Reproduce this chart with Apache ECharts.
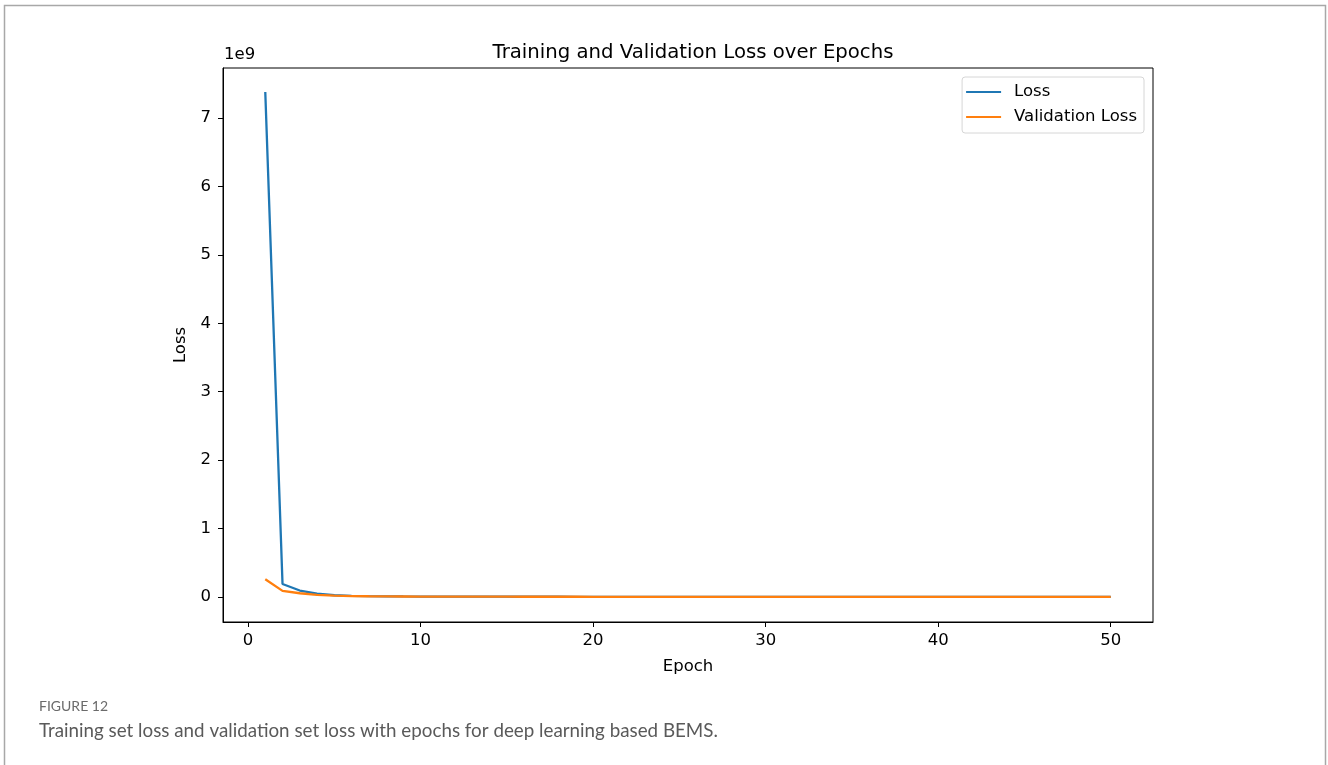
<!DOCTYPE html>
<html>
<head>
<meta charset="utf-8">
<script src="https://cdn.jsdelivr.net/npm/echarts@6/dist/echarts.min.js"></script>
<style>
  html, body { margin: 0; padding: 0; background: #fff; }
  #chart { width: 1328px; height: 765px; }
</style>
</head>
<body>
<div id="chart"></div>
<script>
// Training history of the BEMS deep learning model
const epochs = [1,2,3,4,5,6,7,8,9,10,11,12,13,14,15,16,17,18,19,20,21,22,23,24,25,
                26,27,28,29,30,31,32,33,34,35,36,37,38,39,40,41,42,43,44,45,46,47,48,49,50];
const loss = [7.38e9, 0.19e9, 0.095e9, 0.05e9, 0.026e9, 0.017e9, 0.012e9, 0.0095e9, 0.008e9, 0.007e9,
              0.0062e9, 0.0056e9, 0.0051e9, 0.0047e9, 0.0044e9, 0.0041e9, 0.0039e9, 0.0037e9, 0.0035e9, 0.0033e9,
              0.0032e9, 0.0031e9, 0.0030e9, 0.0029e9, 0.0028e9, 0.0027e9, 0.0026e9, 0.0025e9, 0.0024e9, 0.0024e9,
              0.0023e9, 0.0022e9, 0.0022e9, 0.0021e9, 0.0021e9, 0.0020e9, 0.0020e9, 0.0019e9, 0.0019e9, 0.0018e9,
              0.0018e9, 0.0018e9, 0.0017e9, 0.0017e9, 0.0016e9, 0.0016e9, 0.0016e9, 0.0015e9, 0.0015e9, 0.0015e9];
const valLoss = [0.26e9, 0.09e9, 0.055e9, 0.032e9, 0.02e9, 0.014e9, 0.011e9, 0.009e9, 0.0078e9, 0.0069e9,
                 0.0062e9, 0.0057e9, 0.0052e9, 0.0048e9, 0.0045e9, 0.0042e9, 0.0040e9, 0.0038e9, 0.0036e9, 0.0034e9,
                 0.0033e9, 0.0032e9, 0.0031e9, 0.0030e9, 0.0029e9, 0.0028e9, 0.0027e9, 0.0026e9, 0.0026e9, 0.0025e9,
                 0.0024e9, 0.0024e9, 0.0023e9, 0.0023e9, 0.0022e9, 0.0022e9, 0.0021e9, 0.0021e9, 0.0020e9, 0.0020e9,
                 0.0019e9, 0.0019e9, 0.0019e9, 0.0018e9, 0.0018e9, 0.0018e9, 0.0017e9, 0.0017e9, 0.0017e9, 0.0016e9];
const xTicks = [0, 10, 20, 30, 40, 50];
const yTicks = [0, 1e9, 2e9, 3e9, 4e9, 5e9, 6e9, 7e9];

const font = 'DejaVu Sans';
const fs = 16.5;
const chart = echarts.init(document.getElementById('chart'), null, { renderer: 'canvas' });

const axisCommon = {
  axisLine: { show: true, onZero: false, lineStyle: { color: '#000', width: 1 } },
  splitLine: { show: false },
  nameTextStyle: { fontFamily: font, fontSize: fs, color: '#000' }
};

chart.setOption({
  animation: false,
  backgroundColor: '#fff',
  title: {
    text: 'Training and Validation Loss over Epochs',
    left: 688, top: 38, textAlign: 'center',
    textStyle: { fontFamily: font, fontSize: 19.7, fontWeight: 'normal', color: '#000' }
  },
  legend: {
    right: 184, top: 77,
    orient: 'vertical',
    itemWidth: 35, itemHeight: 2, itemGap: 5,
    padding: [5, 7, 6, 4],
    borderColor: '#d6d6d6', borderWidth: 1, borderRadius: 3,
    icon: 'rect',
    textStyle: { fontFamily: font, fontSize: fs, lineHeight: 20, color: '#000', padding: [0, 0, 0, 8] },
    data: ['Loss', 'Validation Loss']
  },
  grid: {
    left: 223, top: 68, right: 175, bottom: 143,
    show: true, borderColor: '#000', borderWidth: 1
  },
  xAxis: Object.assign({}, axisCommon, {
    type: 'value', min: -1.45, max: 52.45,
    name: 'Epoch', nameLocation: 'middle', nameGap: 36,
    axisTick: { show: true, length: 5, customValues: xTicks, lineStyle: { color: '#000' } },
    axisLabel: { customValues: xTicks, fontFamily: font, fontSize: fs, color: '#000', margin: 10 }
  }),
  yAxis: Object.assign({}, axisCommon, {
    type: 'value', min: -0.365e9, max: 7.73e9,
    name: 'Loss', nameLocation: 'middle', nameGap: 27, nameRotate: 90,
    axisTick: { show: true, length: 5, customValues: yTicks, lineStyle: { color: '#000' } },
    axisLabel: {
      customValues: yTicks, fontFamily: font, fontSize: fs, color: '#000', margin: 12,
      formatter: v => String(Math.round(v / 1e9))
    }
  }),
  graphic: [
    { type: 'rect', shape: { x: 4.5, y: 5.5, width: 1321, height: 800 },
      style: { fill: 'none', stroke: '#a8a8a8', lineWidth: 1.5 }, silent: true, z: -1 },
    { type: 'text', left: 224, top: 46,
      style: { text: '1e9', fontFamily: font, fontSize: fs, fill: '#000' } },
    { type: 'text', left: 39, top: 699,
      style: { text: 'FIGURE 12', fontFamily: 'Lato', fontSize: 14, fill: '#6b6b6b' } },
    { type: 'text', left: 39, top: 721,
      style: { text: 'Training set loss and validation set loss with epochs for deep learning based BEMS.',
               fontFamily: 'Lato', fontSize: 18.8, fill: '#5a5a5a' } }
  ],
  series: [
    { name: 'Loss', type: 'line', showSymbol: false, symbol: 'none',
      data: epochs.map((e, i) => [e, loss[i]]),
      lineStyle: { color: '#1f77b4', width: 2.3 }, itemStyle: { color: '#1f77b4' } },
    { name: 'Validation Loss', type: 'line', showSymbol: false, symbol: 'none',
      data: epochs.map((e, i) => [e, valLoss[i]]),
      lineStyle: { color: '#ff7f0e', width: 2.3 }, itemStyle: { color: '#ff7f0e' } }
  ]
});
</script>
</body>
</html>
